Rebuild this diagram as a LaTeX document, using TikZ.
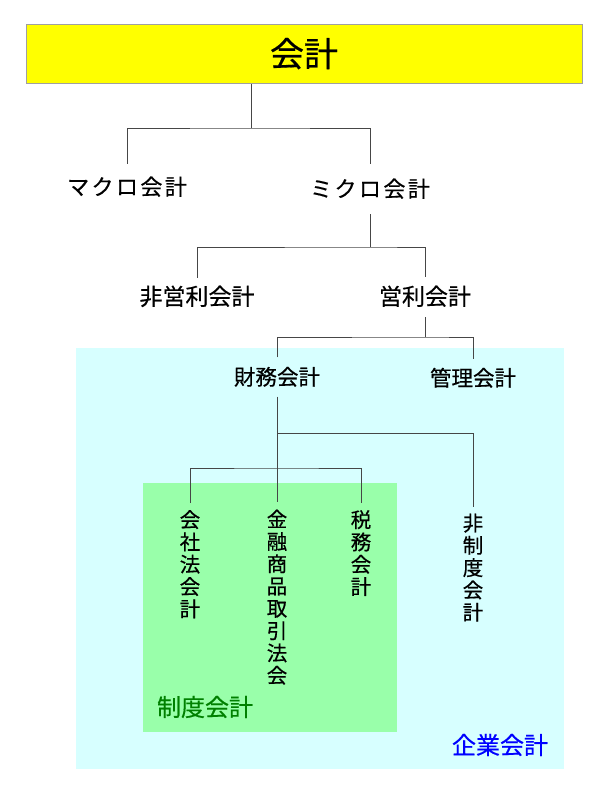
\documentclass[tikz,border=0pt]{standalone}
\usepackage{fontspec}
\setmainfont{Noto Sans CJK JP}[FakeBold=0.5]
\definecolor{cyanbg}{RGB}{215,255,255}
\definecolor{greenbg}{RGB}{153,255,170}
\definecolor{linegray}{RGB}{70,70,70}
\definecolor{boxedge}{RGB}{160,160,160}
\definecolor{titleyellow}{RGB}{255,255,0}
\definecolor{seidogreen}{RGB}{0,128,0}
\definecolor{kigyoblue}{RGB}{0,0,255}
\begin{document}
\begin{tikzpicture}[x=1pt,y=-1pt,
  conn/.style={draw=linegray, line width=1pt},
  titlebox/.style={fill=titleyellow, draw=boxedge, line width=0.8pt,
    minimum width=556pt, minimum height=59pt, inner sep=0pt,
    text height=25pt, text depth=0pt,
    font=\fontsize{34}{36}\selectfont},
  hlabel/.style={inner sep=0pt, text height=16pt, text depth=0pt,
    minimum height=#1},
  kana/.style={font=\fontsize{22}{24}\selectfont\addfontfeature{LetterSpace=11}},
  midl/.style={font=\fontsize{23}{25}\selectfont},
  smalll/.style={font=\fontsize{21.5}{23}\selectfont},
  vlabel/.style={anchor=north, inner xsep=0pt, inner ysep=#1, align=center,
    font=\fontsize{20.5}{22.3}\selectfont},
  areatext/.style={inner sep=0pt, font=\fontsize{24}{26}\selectfont}]
\useasboundingbox (0,0) rectangle (600,800);
% background areas
\fill[cyanbg] (76,348) rectangle (564,769);
\fill[greenbg] (143,483) rectangle (397,732);
% nodes
\node[titlebox] (acc) at (304,54) {会計};
\node[hlabel=46pt, kana] (macro) at (127,187) {マクロ会計};
\node[hlabel=50pt, kana] (micro) at (370,189) {ミクロ会計};
\node[hlabel=38pt, midl] (hieiri) at (197,297) {非営利会計};
\node[hlabel=40pt, midl] (eiri) at (425,297) {営利会計};
\node[hlabel=39pt, smalll] (zaimu) at (277,377) {財務会計};
\node[hlabel=38pt, smalll] (kanri) at (473,378) {管理会計};
\node[vlabel=7pt] (kaisha) at (190,503) {会\\社\\法\\会\\計};
\node[vlabel=7.5pt] (kinyu) at (277,502) {金\\融\\商\\品\\取\\引\\法\\会};
\node[vlabel=7pt] (zeimu) at (361,503) {税\\務\\会\\計};
\node[vlabel=6.5pt] (hiseido) at (473,507) {非\\制\\度\\会\\計};
\node[areatext, text=seidogreen] (seido) at (205,707) {制度会計};
\node[areatext, text=kigyoblue] (kigyo) at (500,745) {企業会計};
% junctions
\coordinate (j0) at (251,128);
\coordinate (j1) at (370,247);
\coordinate (j2) at (425,337);
\coordinate (j3) at (277,433);
\coordinate (j4) at (277,468);
% connectors
\draw[conn] (acc.south -| j0) -- (j0);
\draw[conn] (macro.north) |- (j0) -| (micro.north);
\draw[conn] (micro.south) -- (j1);
\draw[conn] (hieiri.north) |- (j1) -| (eiri.north);
\draw[conn] (eiri.south) -- (j2);
\draw[conn] (zaimu.north) |- (j2) -| (kanri.north);
\draw[conn] (zaimu.south) -- (kinyu.north);
\draw[conn] (j3) -| (hiseido.north);
\draw[conn] (kaisha.north) |- (j4) -| (zeimu.north);
\end{tikzpicture}
\end{document}
